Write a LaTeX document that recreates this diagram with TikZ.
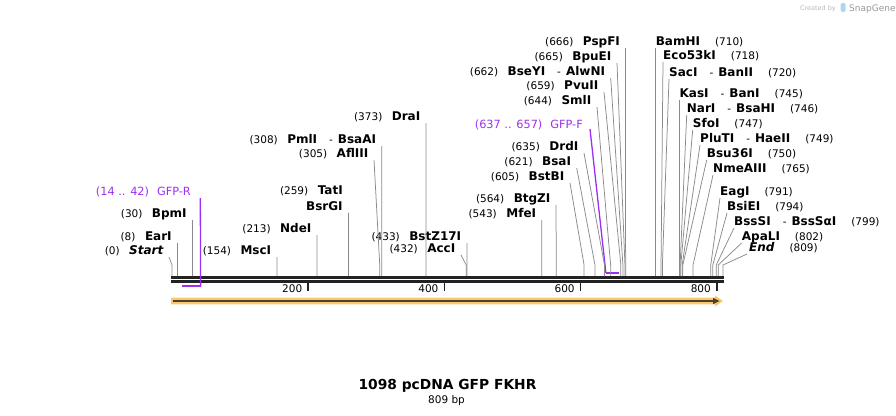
\documentclass[tikz,border=0pt]{standalone}
\usepackage{fontspec}
\setmainfont{DejaVu Sans}
\usetikzlibrary{arrows}

\definecolor{cutgray}{HTML}{8A8A8A}
\definecolor{primer}{HTML}{9B30F0}
\definecolor{barblack}{HTML}{222222}
\definecolor{orfedge}{HTML}{F8C76E}
\definecolor{orfcore}{HTML}{4E3F28}
\definecolor{snapblue}{HTML}{A9D8F2}

\newcommand{\enz}[1]{{\fontsize{12}{13}\selectfont\bfseries #1}}
\newcommand{\lcut}[2]{(#1)\hspace{9.5pt}\enz{#2}}
\newcommand{\rcut}[2]{\enz{#1}\hspace{15pt}(#2)}
\newcommand{\andcut}{\hspace{12pt}-\hspace{5pt}}
\newcommand{\bpx}[1]{172+#1*0.6811}

\begin{document}
\begin{tikzpicture}[x=1pt,y=-1pt,
  site/.style={inner ysep=0pt, font=\fontsize{10.5}{12}\selectfont},
  lsite/.style={site, inner xsep=5.5pt, anchor=base east},
  rsite/.style={site, inner xsep=0pt, anchor=base west},
  cut/.style={draw=cutgray, line width=0.75pt},
  plabel/.style={lsite, text=primer, font=\fontsize{11.3}{13}\selectfont}]
\useasboundingbox (0,0) rectangle (896,415);

% positions on the sequence
\foreach \n in {0,8,30,154,213,259,305,308,373,432,433,543,564,605,621,635,644,659,662,665,666,
                710,718,720,745,746,747,749,750,765,791,794,799,802,809}
  \coordinate (p\n) at ({\bpx{\n}},276);

% sequence bar
\draw[barblack, line width=3pt] (171,277.5) -- (724,277.5);
\draw[barblack, line width=2.6pt] (171,281.7) -- (724,281.7);
\foreach \t in {200,400,600,800} {
  \draw[barblack, line width=1.6pt] ({\bpx{\t}},283) -- ++(0,7.5);
  \node[site, anchor=base east] (t\t) at ({\bpx{\t}-2.5},292.5) {\t};
}

% orf arrow
\fill[orfedge] (171,297.6) -- (715,297.6) -- (715,295.5) -- (723,301) -- (715,306.5) -- (715,304.4) -- (171,304.4) -- cycle;
\draw[orfcore, line width=2pt] (173,301) -- (714,301);
\fill[orfcore] (713,297.8) -- (719.5,301) -- (713,304.2) -- cycle;

% primers
\coordinate (r14) at ({\bpx{14}},286);
\coordinate (r42) at ({\bpx{42}},286);
\coordinate (f637) at ({\bpx{637}},272.8);
\coordinate (f657) at ({\bpx{657}},272.8);
\node[plabel, inner xsep=9.3pt] (gfpr) at (200.3,195) {(14 .. 42)\hspace{8pt}GFP-R};
\draw[primer, line width=1.3pt] ([yshift=-3pt]gfpr.base east) -- (r42);
\draw[primer, line width=2pt] (r14) -- (r42);
\node[plabel, inner xsep=7pt] (gfpf) at (590,128) {(637 .. 657)\hspace{8pt}GFP-F};
\draw[primer, line width=1.3pt] ([yshift=-1pt]gfpf.base east) -- (f637);
\draw[primer, line width=2pt] (f637) -- (f657);

% sites on the left
\node[lsite] (start) at (169,254.5) {\lcut{0}{\itshape Start}};
\node[lsite] (eari) at (177.4,240.5) {\lcut{8}{EarI}};
\node[lsite] (bpmi) at (192.4,217.5) {\lcut{30}{BpmI}};
\node[lsite] (msci) at (276.9,254.5) {\lcut{154}{MscI}};
\node[lsite] (ndei) at (317.1,232.5) {\lcut{213}{NdeI}};
\node[lsite] (tati) at (348.4,194.5) {\lcut{259}{TatI}};
\node[lsite] (bsrgi) at (348.4,210.2) {\enz{BsrGI}};
\node[lsite] (afliii) at (374,157.5) {\lcut{305}{AflIII}};
\node[lsite] (pmli) at (381.8,143.5) {\lcut{308}{PmlI}\andcut\enz{BsaAI}};
\node[lsite] (drai) at (426.0,120.5) {\lcut{373}{DraI}};
\node[lsite] (acci) at (461,252.5) {\lcut{432}{AccI}};
\node[lsite] (bstz) at (466.9,240.5) {\lcut{433}{BstZ17I}};
\node[lsite] (mfei) at (541.8,217.5) {\lcut{543}{MfeI}};
\node[lsite] (btgzi) at (556.1,202.5) {\lcut{564}{BtgZI}};
\node[lsite] (bstbi) at (570,180.5) {\lcut{605}{BstBI}};
\node[lsite] (bsai) at (576.7,165.5) {\lcut{621}{BsaI}};
\node[lsite] (drdi) at (584,150.5) {\lcut{635}{DrdI}};
\node[lsite] (smli) at (597,104.5) {\lcut{644}{SmlI}};
\node[lsite] (pvuii) at (604,89.5) {\lcut{659}{PvuII}};
\node[lsite] (bseyi) at (610.7,75.5) {\lcut{662}{BseYI}\andcut\enz{AlwNI}};
\node[lsite] (bpuei) at (617,60.5) {\lcut{665}{BpuEI}};
\node[lsite] (pspfi) at (625.6,45.5) {\lcut{666}{PspFI}};

\draw[cut] ([yshift=-2.5pt]start.base east) -- ([yshift=11pt]p0) -- (p0);
\draw[cut] ([yshift=-2.5pt]eari.base east) -- (p8);
\draw[cut] ([yshift=-2.5pt]bpmi.base east) -- (p30);
\draw[cut] ([yshift=-2.5pt]msci.base east) -- (p154);
\draw[cut] ([yshift=-2.5pt]ndei.base east) -- (p213);
\draw[cut] ([yshift=-2.5pt]bsrgi.base east) -- (p259);
\draw[cut] ([yshift=-2.5pt]afliii.base east) -- ([yshift=11pt]p305) -- (p305);
\draw[cut] ([yshift=-2.5pt]pmli.base east) -- (p308);
\draw[cut] ([yshift=-2.5pt]drai.base east) -- (p373);
\draw[cut] ([yshift=-2.5pt]acci.base east) -- ([yshift=11pt]p432) -- (p432);
\draw[cut] ([yshift=-2.5pt]bstz.base east) -- (p433);
\draw[cut] ([yshift=-2.5pt]mfei.base east) -- (p543);
\draw[cut] ([yshift=-2.5pt]btgzi.base east) -- (p564);
\draw[cut] ([yshift=-2.5pt]bstbi.base east) -- ([yshift=11pt]p605) -- (p605);
\draw[cut] ([yshift=-2.5pt]bsai.base east) -- ([yshift=11pt]p621) -- (p621);
\draw[cut] ([yshift=-2.5pt]drdi.base east) -- ([yshift=11pt]p635) -- (p635);
\draw[cut] ([yshift=-2.5pt]smli.base east) -- ([yshift=11pt]p644) -- (p644);
\draw[cut] ([yshift=-2.5pt]pvuii.base east) -- ([yshift=11pt]p659) -- (p659);
\draw[cut] ([yshift=-2.5pt]bseyi.base east) -- ([yshift=11pt]p662) -- (p662);
\draw[cut] ([yshift=-2.5pt]bpuei.base east) -- ([yshift=11pt]p665) -- (p665);
\draw[cut] ([yshift=-2.5pt]pspfi.base east) -- (p666);

% sites on the right
\node[rsite] (bamhi) at (655.6,45) {\rcut{BamHI}{710}};
\node[rsite] (eco53ki) at (663,59) {\rcut{Eco53kI}{718}};
\node[rsite] (saci) at (669,76) {\enz{SacI}\andcut\rcut{BanII}{720}};
\node[rsite] (kasi) at (679.4,97) {\enz{KasI}\andcut\rcut{BanI}{745}};
\node[rsite] (nari) at (686.7,112) {\enz{NarI}\andcut\rcut{BsaHI}{746}};
\node[rsite] (sfoi) at (692.7,127) {\rcut{SfoI}{747}};
\node[rsite] (pluti) at (700,142) {\enz{PluTI}\andcut\rcut{HaeII}{749}};
\node[rsite] (bsu36i) at (706.7,157) {\rcut{Bsu36I}{750}};
\node[rsite] (nmeaiii) at (713,172) {\rcut{NmeAIII}{765}};
\node[rsite] (eagi) at (720,195) {\rcut{EagI}{791}};
\node[rsite] (bsiei) at (727,210) {\rcut{BsiEI}{794}};
\node[rsite] (bsssi) at (734,225) {\enz{BssSI}\andcut\rcut{BssSαI}{799}};
\node[rsite] (apali) at (741.7,240) {\rcut{ApaLI}{802}};
\node[rsite, inner xsep=2pt] (end) at (747,251) {\rcut{\itshape End}{809}};

\draw[cut] ([yshift=-3pt]bamhi.base west) -- (p710);
\draw[cut] ([yshift=-3pt]eco53ki.base west) -- ([yshift=11pt]p718) -- (p718);
\draw[cut] ([yshift=-3pt]saci.base west) -- ([yshift=11pt]p720) -- (p720);
\draw[cut] ([yshift=-3pt]kasi.base west) -- (p745);
\draw[cut] ([yshift=-3pt]nari.base west) -- ([yshift=11pt]p746) -- (p746);
\draw[cut] ([yshift=-3pt]sfoi.base west) -- ([yshift=11pt]p747) -- (p747);
\draw[cut] ([yshift=-3pt]pluti.base west) -- ([yshift=11pt]p749) -- (p749);
\draw[cut] ([yshift=-3pt]bsu36i.base west) -- ([yshift=11pt]p750) -- (p750);
\draw[cut] ([yshift=-3pt]nmeaiii.base west) -- ([yshift=11pt]p765) -- (p765);
\draw[cut] ([yshift=-3pt]eagi.base west) -- ([yshift=11pt]p791) -- (p791);
\draw[cut] ([yshift=-3pt]bsiei.base west) -- ([yshift=11pt]p794) -- (p794);
\draw[cut] ([yshift=-3pt]bsssi.base west) -- ([yshift=11pt]p799) -- (p799);
\draw[cut] ([yshift=-3pt]apali.base west) -- ([yshift=11pt]p802) -- (p802);
\draw[cut] ([yshift=-3pt]end.base west) -- ([yshift=11pt]p809) -- (p809);

% title
\node[font=\fontsize{13.8}{16}\selectfont\bfseries, anchor=base] (title) at (447.5,389) {1098 pcDNA GFP FKHR};
\node[font=\fontsize{10.5}{12}\selectfont, anchor=base] (length) at (446.5,403) {809 bp};

% watermark
\node[font=\fontsize{6.5}{7}\selectfont, text=black!28, anchor=base east, inner sep=0pt] (made) at (836,10) {Created by};
\node[fill=snapblue, minimum width=5pt, minimum height=9pt, inner sep=0pt, rounded corners=1.5pt] (snapicon) at (843,7.5) {};
\node[font=\fontsize{9}{10}\selectfont, text=black!40, anchor=base west, inner sep=0pt] (snap) at (849,11) {SnapGene};
\end{tikzpicture}
\end{document}
